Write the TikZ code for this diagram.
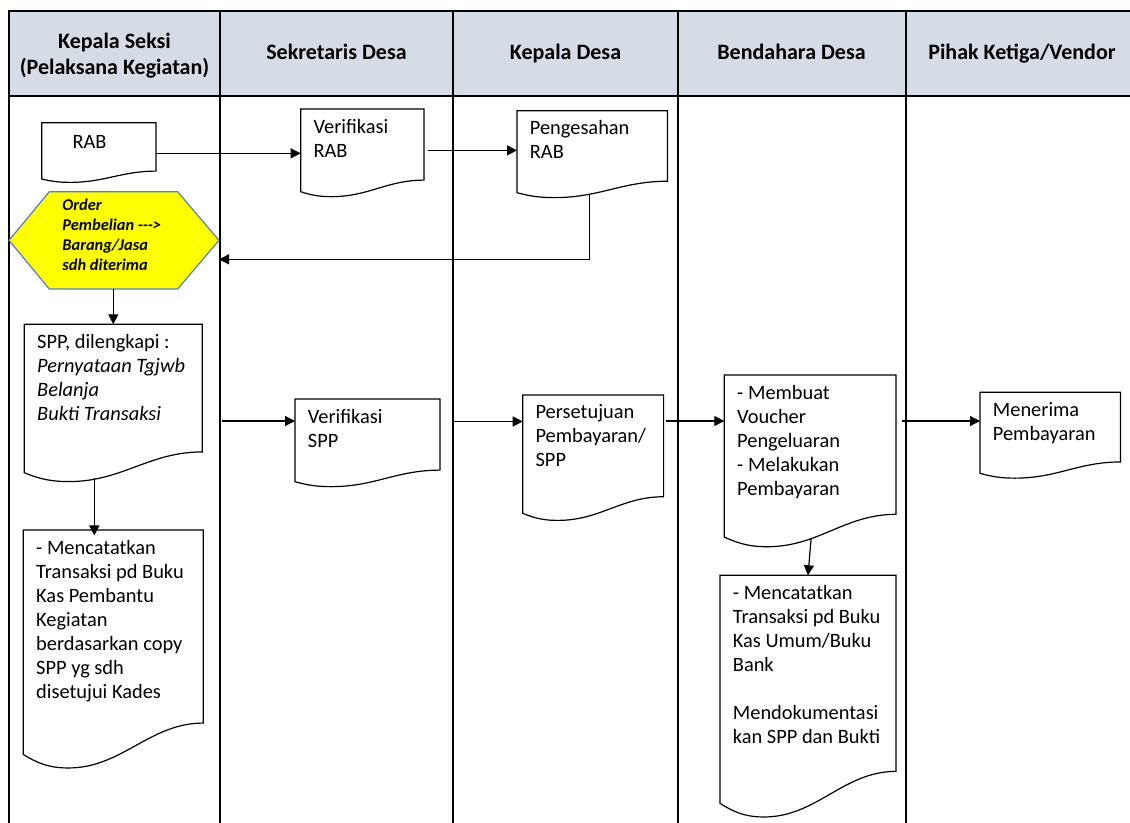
\documentclass[tikz,border=0pt]{standalone}
\usepackage{fontspec}
\setmainfont{Carlito}
\usetikzlibrary{arrows.meta,calc,fit}

\definecolor{headfill}{HTML}{D6DCE5}
\definecolor{hexblue}{HTML}{4F81BD}
\definecolor{hexfill}{HTML}{FFFF00}

\tikzset{
  frame/.style={line width=1pt},
  docbox/.style={rectangle, inner sep=0pt, outer sep=0pt},
  docline/.style={line width=0.6pt, fill=white},
  doctext/.style={anchor=north west, inner sep=0pt, align=left,
    font=\fontsize{10.2}{12}\selectfont,
    execute at begin node={\rule{0pt}{8pt}}},
  headtext/.style={inner sep=0pt, align=center,
    font=\bfseries\fontsize{11}{13}\selectfont},
  hexline/.style={draw=hexblue, fill=hexfill, line width=0.6pt},
  hextext/.style={anchor=north west, inner sep=0pt, align=left,
    font=\bfseries\itshape\fontsize{8.2}{10}\selectfont,
    execute at begin node={\rule{0pt}{7.3pt}}},
  arr/.style={line width=0.6pt, -{Triangle[length=5pt,width=5pt]}},
}

% document symbol: name, left, top, right, depth of the left corner, text
\newcommand\docnode[6]{%
  \node[docbox, fit={(#2,#3) (#4,#5)}] (#1) {};
  \draw[docline] let \p1=(#1.north west), \p2=(#1.south east),
      \n1={\x2-\x1}, \n2={\y1-\y2} in
    (\x1,\y1) -- (\x2,\y1) -- (\x2,{\y1-0.86*\n2})
    .. controls ({\x1+0.7*\n1},{\y1-0.86*\n2}) and ({\x1+0.55*\n1},{\y1-1.06*\n2})
    .. ({\x1+0.25*\n1},{\y1-1.06*\n2})
    .. controls ({\x1+0.17*\n1},{\y1-1.06*\n2}) and ({\x1+0.1*\n1},{\y1-1.05*\n2})
    .. (\x1,\y2) -- cycle;
  \node[doctext] (#1-text) at ([shift={(12.5,9.5)}]#1.north west) {#6};
}

\begin{document}
\begin{tikzpicture}[x=0.5pt, y=-0.5pt]
\useasboundingbox (0,0) rectangle (1130,823);

% swimlane table
\fill[headfill] (9,11) rectangle (1130,96);
\draw[frame] (1130,11) -- (9,11) -- (9,823);
\draw[frame] (9,96) -- (1130,96);
\foreach \x in {220,453,678,906} \draw[frame] (\x,11) -- (\x,823);

\node[headtext] (h-seksi) at (114.5,55.4) {Kepala Seksi\\(Pelaksana Kegiatan)};
\node[headtext, anchor=base] (h-sekdes) at (336.5,60) {Sekretaris Desa};
\node[headtext, anchor=base] (h-kades) at (565.5,60) {Kepala Desa};
\node[headtext, anchor=base] (h-bendahara) at (791.5,60) {Bendahara Desa};
\node[headtext, anchor=base] (h-vendor) at (1022,60) {Pihak Ketiga/Vendor};

% process documents
\docnode{rab}{41.7}{122.7}{156}{179}{\hspace*{9pt}RAB}
\docnode{verrab}{300.7}{109}{424}{191.7}{Verifikasi\\RAB}
\docnode{pengrab}{517}{110.7}{667.5}{192.7}{Pengesahan\\RAB}
\docnode{spp}{24.3}{324.3}{202.3}{472.7}{SPP, dilengkapi :\\\textit{Pernyataan Tgjwb}\\\textit{Belanja}\\\textit{Bukti Transaksi}}
\docnode{catat1}{23.3}{530}{203.3}{754.5}{- Mencatatkan\\Transaksi pd Buku\\Kas Pembantu\\Kegiatan\\berdasarkan copy\\SPP yg sdh\\disetujui Kades}
\docnode{verspp}{295}{399}{440}{481.7}{Verifikasi\\SPP}
\docnode{setuju}{522.7}{395}{663.6}{513.3}{Persetujuan\\Pembayaran/\\SPP}
\docnode{bayar}{724.3}{375}{896}{537}{- Membuat\\Voucher\\Pengeluaran\\- Melakukan\\Pembayaran}
\docnode{terima}{980}{392.3}{1120.4}{473.3}{Menerima\\Pembayaran}
\docnode{catat2}{720}{575.3}{896}{803.3}{- Mencatatkan\\Transaksi pd Buku\\Kas Umum/Buku\\Bank\\[12pt]Mendokumentasi\\kan SPP dan Bukti}

% order hexagon
\node[docbox, fit={(9,191.7) (219,289)}] (order) {};
\draw[hexline] (order.west) -- ([shift={(40.3,0)}]order.north west)
  -- ([shift={(-41.3,0)}]order.north east) -- (order.east)
  -- ([shift={(-41.3,0)}]order.south east)
  -- ([shift={(40.3,0)}]order.south west) -- cycle;
\node[hextext] (order-text) at (62,198.5)
  {Order\\Pembelian -\kern0pt-\kern0pt->\\Barang/Jasa\\sdh diterima};

% connectors
\coordinate (back) at ([shift={(0,19)}]order.east);
\coordinate (sppout) at (222,421);
\coordinate (verout) at (453,421.5);
\coordinate (setout) at (666,421);
\coordinate (bayarout) at (902,421);

\draw[arr] ([shift={(0,2.5)}]rab.east) -- ([shift={(0,2.5)}]rab.east -| verrab.west);
\draw[arr] ([shift={(3.7,0)}]verrab.east) -- (verrab.east -| pengrab.west);
\draw[arr] ([shift={(-2.6,1)}]pengrab.south) |- (back);
\draw[arr] (order.south -| spp.north) -- (spp.north);
\draw[arr] ([shift={(-19,5.5)}]spp.south) -- ([shift={(-19,5.5)}]spp.south |- catat1.north);
\draw[arr] (sppout) -- (sppout -| verspp.west);
\draw[arr] (verout) -- (verout -| setuju.west);
\draw[arr] (setout) -- (setout -| bayar.west);
\draw[arr] (bayarout) -- (bayarout -| terima.west);
\draw[arr] ([shift={(1,1)}]bayar.south) -- (catat2.north);
\end{tikzpicture}
\end{document}
